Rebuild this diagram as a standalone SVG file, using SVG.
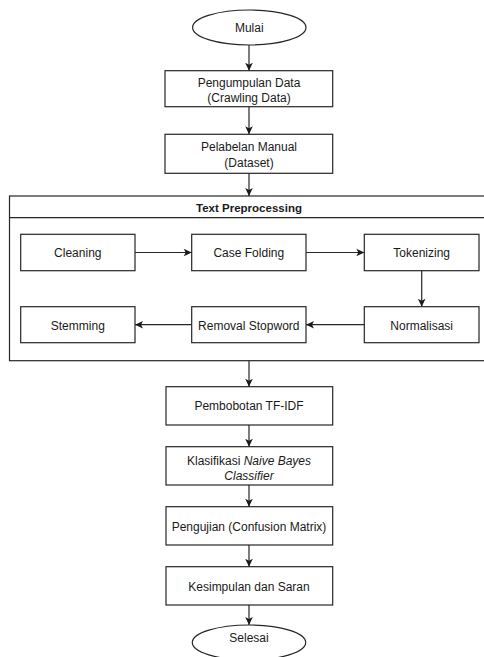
<svg xmlns="http://www.w3.org/2000/svg" width="484" height="657" viewBox="0 0 484 657">
<style>
.box{fill:#fff;stroke:#262626;stroke-width:1.2}
.t{font-family:"Liberation Sans",Arial,sans-serif;font-size:12px;fill:#1a1a1a;text-anchor:middle}
.b{font-weight:bold;font-size:11.5px}
.i{font-style:italic}
.c{fill:none;stroke:#262626;stroke-width:1.2}
</style>
<defs>
<marker id="ah" markerUnits="userSpaceOnUse" markerWidth="10" markerHeight="10" viewBox="0 0 10 10" refX="9" refY="5" orient="auto">
<path d="M1,1.2 L9,5 L1,8.8 L3,5 Z" fill="#1a1a1a"/>
</marker>
</defs>
<rect width="484" height="657" fill="#fff"/>

<g id="mulai">
<ellipse class="box" cx="249.3" cy="27.5" rx="56.7" ry="17.5"/>
<text class="t" x="249.3" y="32">Mulai</text>
</g>
<g id="pengumpulan">
<rect class="box" x="165" y="70.7" width="167.7" height="36"/>
<text class="t" x="249" y="87">Pengumpulan Data</text>
<text class="t" x="249" y="102">(Crawling Data)</text>
</g>
<g id="pelabelan">
<rect class="box" x="165" y="134.3" width="167.7" height="39"/>
<text class="t" x="249" y="151">Pelabelan Manual</text>
<text class="t" x="249" y="167">(Dataset)</text>
</g>

<g id="preprocessing">
<rect class="box" x="9.5" y="196" width="480" height="164.7"/>
<line class="c" x1="9.5" y1="217.7" x2="484" y2="217.7"/>
<text class="t b" x="249" y="211.5">Text Preprocessing</text>
</g>
<g id="cleaning">
<rect class="box" x="20.7" y="234.3" width="114.3" height="36.4"/>
<text class="t" x="77.8" y="257">Cleaning</text>
</g>
<g id="casefolding">
<rect class="box" x="191.7" y="234.3" width="114.3" height="36.4"/>
<text class="t" x="248.8" y="257">Case Folding</text>
</g>
<g id="tokenizing">
<rect class="box" x="364.3" y="234.3" width="114.7" height="36.4"/>
<text class="t" x="421.7" y="257">Tokenizing</text>
</g>
<g id="stemming">
<rect class="box" x="20.7" y="306.7" width="114.3" height="36"/>
<text class="t" x="77.8" y="329.5">Stemming</text>
</g>
<g id="removal">
<rect class="box" x="191.7" y="306.7" width="114.3" height="36"/>
<text class="t" x="248.8" y="329.5">Removal Stopword</text>
</g>
<g id="normalisasi">
<rect class="box" x="364.3" y="306.7" width="114.7" height="36"/>
<text class="t" x="421.7" y="329.5">Normalisasi</text>
</g>

<g id="pembobotan">
<rect class="box" x="166" y="386.7" width="166.7" height="38.3"/>
<text class="t" x="249" y="410">Pembobotan TF-IDF</text>
</g>
<g id="klasifikasi">
<rect class="box" x="166" y="446.7" width="166.7" height="38.3"/>
<text class="t" x="249" y="464.5">Klasifikasi <tspan class="i">Naive Bayes</tspan></text>
<text class="t i" x="249" y="480">Classifier</text>
</g>
<g id="pengujian">
<rect class="box" x="166" y="506.7" width="166.7" height="38.3"/>
<text class="t" x="249" y="531">Pengujian (Confusion Matrix)</text>
</g>
<g id="kesimpulan">
<rect class="box" x="166" y="566.7" width="166.7" height="38.3"/>
<text class="t" x="249" y="591">Kesimpulan dan Saran</text>
</g>
<g id="selesai">
<ellipse class="box" cx="249" cy="642.5" rx="56.7" ry="17.5"/>
<text class="t" x="249" y="641.5">Selesai</text>
</g>

<g id="connectors">
<line class="c" x1="249" y1="45" x2="249" y2="70.7" marker-end="url(#ah)"/>
<line class="c" x1="249" y1="106.7" x2="249" y2="134.3" marker-end="url(#ah)"/>
<line class="c" x1="249" y1="173.3" x2="249" y2="196" marker-end="url(#ah)"/>
<line class="c" x1="135" y1="252.5" x2="191.7" y2="252.5" marker-end="url(#ah)"/>
<line class="c" x1="306" y1="252.5" x2="364.3" y2="252.5" marker-end="url(#ah)"/>
<line class="c" x1="421.7" y1="270.7" x2="421.7" y2="306.7" marker-end="url(#ah)"/>
<line class="c" x1="364.3" y1="324.7" x2="306" y2="324.7" marker-end="url(#ah)"/>
<line class="c" x1="191.7" y1="324.7" x2="135" y2="324.7" marker-end="url(#ah)"/>
<line class="c" x1="249" y1="360.7" x2="249" y2="386.7" marker-end="url(#ah)"/>
<line class="c" x1="249" y1="425" x2="249" y2="446.7" marker-end="url(#ah)"/>
<line class="c" x1="249" y1="485" x2="249" y2="506.7" marker-end="url(#ah)"/>
<line class="c" x1="249" y1="545" x2="249" y2="566.7" marker-end="url(#ah)"/>
<line class="c" x1="249" y1="605" x2="249" y2="625" marker-end="url(#ah)"/>
</g>
</svg>
